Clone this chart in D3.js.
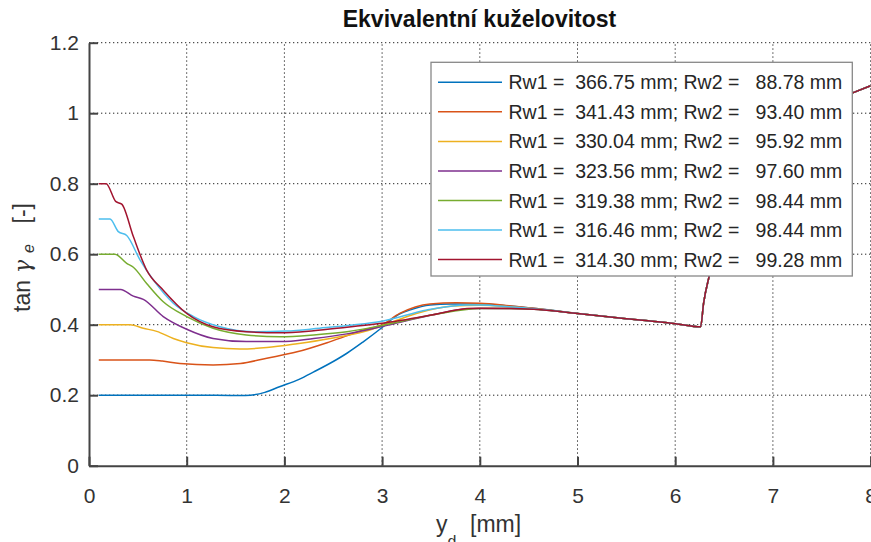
<!DOCTYPE html>
<html>
<head>
<meta charset="utf-8">
<script src="https://cdnjs.cloudflare.com/ajax/libs/d3/7.8.5/d3.min.js"></script>
<style>
body { margin: 0; background: #fff; }
text { font-family: "Liberation Sans", Arial, Helvetica, sans-serif; }
</style>
</head>
<body>
<script>
// series colours (matlab default order)
var colors = ['#0072BD', '#D95319', '#EDB120', '#7E2F8E', '#77AC30', '#4DBEEE', '#A2142F'];

var labels = [
    'Rw1 =  366.75 mm; Rw2 =   88.78 mm',
    'Rw1 =  341.43 mm; Rw2 =   93.40 mm',
    'Rw1 =  330.04 mm; Rw2 =   95.92 mm',
    'Rw1 =  323.56 mm; Rw2 =   97.60 mm',
    'Rw1 =  319.38 mm; Rw2 =   98.44 mm',
    'Rw1 =  316.46 mm; Rw2 =   98.44 mm',
    'Rw1 =  314.30 mm; Rw2 =   99.28 mm'
];

// y_d [mm] and tan gamma_e
var yd1  = [0.1, 0.5, 1.0, 1.3, 1.6, 1.8, 1.95, 2.15, 2.3, 2.54, 2.64, 2.8, 3.0, 3.15, 3.29, 3.49, 3.7, 4.0, 4.3, 4.6];
var tan1 = [0.2, 0.2, 0.2, 0.2, 0.199, 0.208, 0.224, 0.245, 0.266, 0.302, 0.319, 0.350, 0.392, 0.426, 0.442, 0.456, 0.459, 0.459, 0.453, 0.445];

var yd2  = [0.1, 0.62, 0.75, 0.93, 1.27, 1.55, 1.82, 2.13, 2.47, 2.81, 3.0, 3.18, 3.49, 3.76, 4.0, 4.3, 4.6];
var tan2 = [0.3, 0.3, 0.297, 0.29, 0.286, 0.29, 0.305, 0.323, 0.352, 0.385, 0.40, 0.432, 0.459, 0.462, 0.461, 0.454, 0.445];

var yd3  = [0.1, 0.42, 0.556, 0.693, 0.863, 1.0, 1.27, 1.545, 1.82, 2.13, 2.47, 2.81, 3.0, 3.35, 3.73, 4.0, 4.3, 4.6];
var tan3 = [0.4, 0.4, 0.39, 0.381, 0.361, 0.349, 0.335, 0.331, 0.335, 0.346, 0.361, 0.380, 0.397, 0.432, 0.453, 0.455, 0.451, 0.444];

var yd4  = [0.1, 0.324, 0.454, 0.556, 0.76, 1.0, 1.27, 1.61, 1.955, 2.3, 2.64, 3.0, 3.52, 3.87, 4.0, 4.3, 4.6];
var tan4 = [0.5, 0.5, 0.481, 0.472, 0.423, 0.387, 0.361, 0.352, 0.352, 0.361, 0.374, 0.395, 0.428, 0.445, 0.446, 0.446, 0.443];

var yd5  = [0.1, 0.266, 0.386, 0.454, 0.59, 0.76, 1.0, 1.27, 1.61, 1.955, 2.3, 2.64, 3.0, 3.52, 4.0, 4.3, 4.6];
var tan5 = [0.6, 0.6, 0.574, 0.563, 0.517, 0.465, 0.423, 0.390, 0.371, 0.366, 0.371, 0.380, 0.398, 0.428, 0.446, 0.446, 0.443];

var yd6  = [0.1, 0.215, 0.30, 0.386, 0.522, 0.658, 0.863, 1.07, 1.34, 1.68, 2.02, 2.36, 2.70, 3.0, 3.46, 3.87, 4.0, 4.3, 4.6];
var tan6 = [0.7, 0.7, 0.664, 0.653, 0.584, 0.527, 0.461, 0.423, 0.394, 0.380, 0.382, 0.390, 0.399, 0.410, 0.442, 0.456, 0.456, 0.451, 0.444];

var yd7  = [0.1, 0.175, 0.276, 0.335, 0.454, 0.59, 0.76, 1.0, 1.27, 1.61, 1.955, 2.3, 2.64, 3.0, 3.52, 3.87, 4.0, 4.3, 4.6];
var tan7 = [0.8, 0.8, 0.749, 0.742, 0.650, 0.555, 0.498, 0.432, 0.394, 0.380, 0.377, 0.383, 0.393, 0.404, 0.428, 0.446, 0.447, 0.446, 0.443];

// common part (all wheels the same once on the flange)
var ydTail  = [5.0, 5.5, 6.0, 6.26, 6.29, 6.35, 6.45, 6.6, 6.8, 7.0, 7.3, 7.6, 7.81, 8.0];
var tanTail = [0.432, 0.417, 0.403, 0.394, 0.46, 0.54, 0.64, 0.75, 0.85, 0.92, 0.99, 1.035, 1.057, 1.078];

var xTicks = [0, 1, 2, 3, 4, 5, 6, 7, 8];
var yTicks = [0, 0.2, 0.4, 0.6, 0.8, 1, 1.2];

var allX = [yd1, yd2, yd3, yd4, yd5, yd6, yd7];
var allY = [tan1, tan2, tan3, tan4, tan5, tan6, tan7];

var series = allX.map(function(xs, i){
    var xx = xs.concat(ydTail);
    var yy = allY[i].concat(tanTail);
    return xx.map(function(v, j){ return {x: v, y: yy[j]}; });
});

var svg = d3.select('body').append('svg')
    .attr('width', 871)
    .attr('height', 542)
;

var x = d3.scaleLinear().domain([0, 8]).range([89, 870.6]);
var y = d3.scaleLinear().domain([0, 1.2]).range([465.7, 42.7]);

// grid
svg.selectAll('.gx')
    .data(xTicks.slice(1))
    .enter()
    .append('line')
    .attr('x1', function(d){ return x(d); })
    .attr('x2', function(d){ return x(d); })
    .attr('y1', y(0))
    .attr('y2', y(1.2))
    .attr('stroke', '#262626')
    .attr('stroke-width', 1)
    .attr('stroke-dasharray', '1.3,2.7');

svg.selectAll('.gy')
    .data(yTicks.slice(1))
    .enter()
    .append('line')
    .attr('x1', x(0))
    .attr('x2', x(8))
    .attr('y1', function(d){ return y(d); })
    .attr('y2', function(d){ return y(d); })
    .attr('stroke', '#262626')
    .attr('stroke-width', 1)
    .attr('stroke-dasharray', '1.3,2.7');

svg.append('clipPath').attr('id', 'clip')
    .append('rect')
    .attr('x', x(0)).attr('y', y(1.2))
    .attr('width', x(8) - x(0)).attr('height', y(0) - y(1.2));

var line = d3.line()
    .x(function(d){ return x(d.x); })
    .y(function(d){ return y(d.y); })
    .curve(d3.curveMonotoneX);

svg.append('g').attr('clip-path', 'url(#clip)')
    .selectAll('path')
    .data(series)
    .enter()
    .append('path')
    .attr('d', line)
    .attr('fill', 'none')
    .attr('stroke', function(d, i){ return colors[i]; })
    .attr('stroke-width', 1.5);

// axes
var xAxis = svg.append('g')
    .attr('transform', 'translate(0,' + y(0) + ')')
    .call(d3.axisBottom(x).tickValues(xTicks).tickSize(-9).tickSizeOuter(0).tickPadding(22)
        .tickFormat(function(d){ return String(d); }));

var yAxis = svg.append('g')
    .attr('transform', 'translate(' + x(0) + ',0)')
    .call(d3.axisLeft(y).tickValues(yTicks).tickSize(-9).tickSizeOuter(0).tickPadding(10)
        .tickFormat(function(d){ return String(d); }));

[xAxis, yAxis].forEach(function(a){
    a.select('.domain').attr('stroke', '#444').attr('stroke-width', 2);
    a.selectAll('.tick line').attr('stroke', '#444').attr('stroke-width', 2);
    a.selectAll('.tick text')
        .attr('fill', '#333')
        .style('font-size', '21px')
        .style('font-family', '"Liberation Sans", Arial, sans-serif');
});

// title
svg.append('text')
    .attr('x', 479.5)
    .attr('y', 26.5)
    .attr('text-anchor', 'middle')
    .attr('fill', '#111')
    .style('font-size', '23px')
    .style('font-weight', 'bold')
    .text('Ekvivalentní kuželovitost');

// x label
var xl = svg.append('text')
    .attr('x', 436)
    .attr('y', 531.5)
    .attr('fill', '#333')
    .style('font-size', '23px');
xl.append('tspan').text('y');
xl.append('tspan').attr('dy', 15).style('font-size', '16px').text('d');
xl.append('tspan').attr('x', 470).attr('dy', -15).text('[mm]');

// y label
var yl = svg.append('text')
    .attr('transform', 'translate(29.5,258) rotate(-90)')
    .attr('fill', '#333')
    .style('font-size', '23px');
yl.append('tspan').attr('x', -54).text('tan');
yl.append('tspan').attr('x', -15).style('font-style', 'italic').style('font-family', '"DejaVu Serif", serif').style('font-size', '22px').text('γ');
yl.append('tspan').attr('x', 5).attr('dy', 4).style('font-size', '16px').style('font-style', 'italic').text('e');
yl.append('tspan').attr('x', 34.5).attr('dy', -4).text('[-]');

// legend
var lg = svg.append('g');
lg.append('rect')
    .attr('x', 431).attr('y', 62.3)
    .attr('width', 421.3).attr('height', 213.7)
    .attr('fill', '#fff')
    .attr('stroke', '#888')
    .attr('stroke-width', 1.3);

var items = lg.selectAll('.item')
    .data(labels)
    .enter()
    .append('g')
    .attr('transform', function(d, i){ return 'translate(0,' + (82.3 + i * 29.55) + ')'; });

items.append('line')
    .attr('x1', 438).attr('x2', 502)
    .attr('y1', 0).attr('y2', 0)
    .attr('stroke', function(d, i){ return colors[i]; })
    .attr('stroke-width', 1.5);

items.append('text')
    .attr('x', 508.5)
    .attr('y', 0)
    .attr('dy', '0.36em')
    .attr('xml:space', 'preserve')
    .style('white-space', 'pre')
    .attr('fill', '#262626')
    .style('font-size', '19.5px')
    .text(function(d){ return d; });
</script>
</body>
</html>
